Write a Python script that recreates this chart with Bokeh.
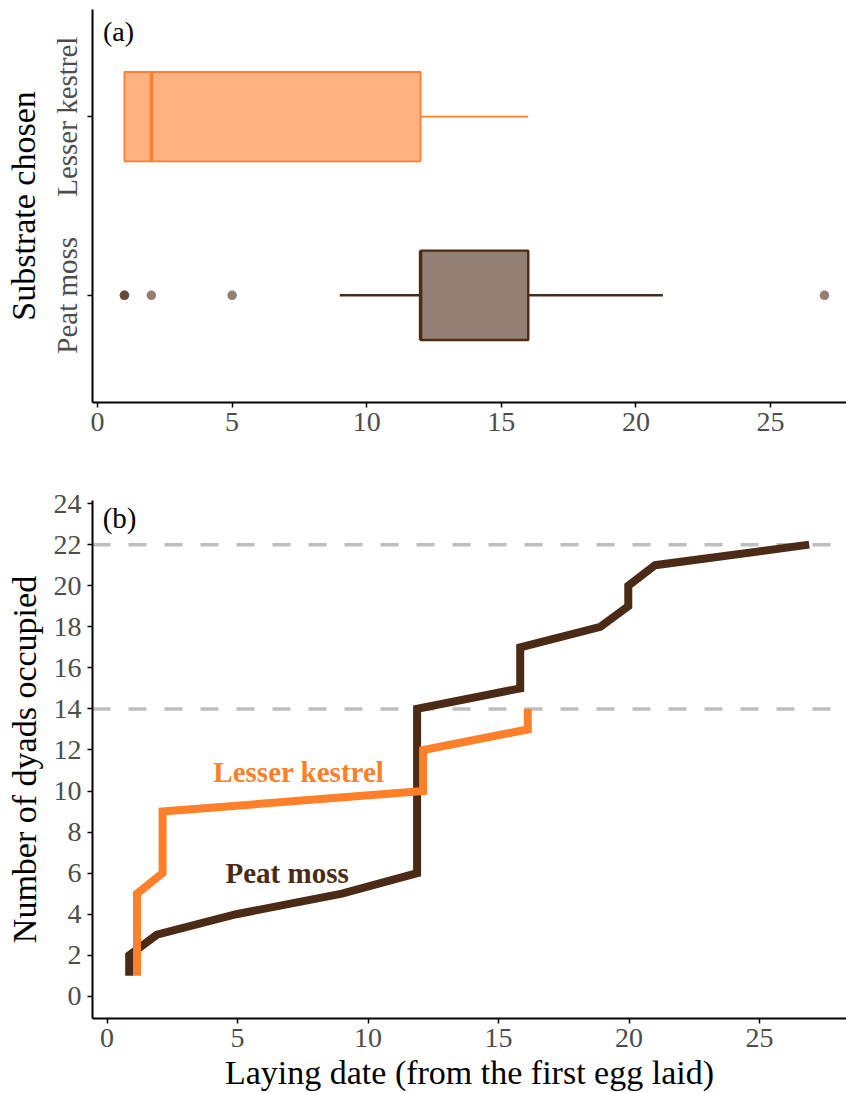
import numpy as np
from bokeh.plotting import figure
from bokeh.layouts import column
from bokeh.models import Range1d, FixedTicker, Span
from bokeh.embed import file_html
from bokeh.resources import INLINE
from bokeh.core.properties import value

# ---------------- data ----------------
categories = ["Peat moss", "Lesser kestrel"]
category_pos = [1, 2]

# laying dates per substrate (panel a, boxplots)
peat_dates = [1, 1, 2, 5, 9, 12, 12, 12, 12, 12, 12, 12, 12, 12,
              16, 16, 16, 19, 20, 20, 21, 27]
kestrel_dates = [1, 1, 1, 1, 1, 2, 2, 2, 2, 12, 12, 12, 16, 16]

# cumulative occupation curves (panel b), x as drawn (slightly jittered)
peat_line_x = [0.85, 0.85, 1.91, 4.95, 9.0, 11.88, 11.88, 11.88, 11.88, 11.88,
               11.88, 11.88, 11.88, 11.88, 15.83, 15.83, 15.83, 18.9, 19.97,
               19.97, 21.0, 26.9]
peat_line_y = [1, 2, 3, 4, 5, 6, 7, 8, 9, 10, 11, 12, 13, 14, 15, 16, 17, 18,
               19, 20, 21, 22]
kestrel_line_x = [1.15, 1.15, 1.15, 1.15, 1.15, 2.13, 2.13, 2.13, 2.13,
                  12.11, 12.11, 12.11, 16.12, 16.12]
kestrel_line_y = [1, 2, 3, 4, 5, 6, 7, 8, 9, 10, 11, 12, 13, 14]

ref_levels = [14, 22]
x_ticks = [0, 5, 10, 15, 20, 25]
y_ticks_b = [0, 2, 4, 6, 8, 10, 12, 14, 16, 18, 20, 22, 24]

# ---------------- style ----------------
FONT = "Liberation Serif"
ORANGE = "#FF7F2A"
BROWN = "#4B2A16"
TICK_GREY = "#4D4D4D"


def box_stats(vals):
    v = np.array(vals, dtype=float)
    q1, med, q3 = np.percentile(v, [25, 50, 75])
    iqr = q3 - q1
    lo_f, hi_f = q1 - 1.5 * iqr, q3 + 1.5 * iqr
    inside = v[(v >= lo_f) & (v <= hi_f)]
    lw, uw = inside.min(), inside.max()
    out = v[(v < lo_f) | (v > hi_f)]
    return q1, med, q3, lw, uw, out


def style_axes(p):
    p.outline_line_color = None
    p.xgrid.visible = False
    p.ygrid.visible = False
    p.background_fill_color = "white"
    p.border_fill_color = "white"
    for ax in (p.xaxis[0], p.yaxis[0]):
        ax.axis_line_width = 2
        ax.axis_line_color = "black"
        ax.major_tick_line_color = "black"
        ax.major_tick_line_width = 1.5
        ax.major_tick_out = 5
        ax.major_tick_in = 0
        ax.minor_tick_line_color = None
        ax.major_label_text_font = FONT
        ax.major_label_text_color = TICK_GREY
        ax.axis_label_text_font = FONT
        ax.axis_label_text_font_style = "normal"
        ax.axis_label_text_color = "black"
        ax.axis_label_text_font_size = "34px"


# ---------------- panel a ----------------
p1 = figure(width=846, height=487, x_range=Range1d(-0.186, 27.82),
            y_range=Range1d(0.4, 2.6), output_backend="svg",
            toolbar_location=None, min_border_left=92, min_border_right=0,
            min_border_top=9, min_border_bottom=85)
style_axes(p1)

groups = [(kestrel_dates, 2, ORANGE, 1.8), (peat_dates, 1, BROWN, 2.4)]
for vals, ypos, col, lw_box in groups:
    q1, med, q3, lw, uw, out = box_stats(vals)
    # whiskers
    p1.segment(x0=[q3], y0=[ypos], x1=[uw], y1=[ypos], line_color=col, line_width=lw_box)
    p1.segment(x0=[lw], y0=[ypos], x1=[q1], y1=[ypos], line_color=col, line_width=lw_box)
    # box
    p1.hbar(y=[ypos], left=[q1], right=[q3], height=0.5, fill_color=col,
            fill_alpha=0.6, line_color=col, line_width=lw_box)
    # median
    p1.segment(x0=[med], y0=[ypos - 0.25], x1=[med], y1=[ypos + 0.25],
               line_color=col, line_width=3.5)
    if len(out):
        p1.scatter(x=list(out), y=[ypos] * len(out), size=9.5, fill_color=col,
                   fill_alpha=0.6, line_color=None)

p1.xaxis.ticker = FixedTicker(ticks=x_ticks)
p1.xaxis.major_label_text_font_size = "28px"
p1.xaxis.major_label_standoff = 5
p1.yaxis.ticker = FixedTicker(ticks=category_pos)
p1.yaxis.major_label_overrides = {category_pos[i]: categories[i] for i in range(2)}
p1.yaxis.major_label_orientation = "vertical"
p1.yaxis.major_label_text_font_size = "29px"
p1.yaxis.major_label_standoff = 4
p1.yaxis.axis_label = "Substrate chosen"
p1.yaxis.axis_label_standoff = 7

p1.text(x=[0.78], y=[2.477], text=["(a)"], text_font=value(FONT),
        text_font_size="28px", text_color="black", text_align="center",
        text_baseline="middle")

# ---------------- panel b ----------------
p2 = figure(width=846, height=606, x_range=Range1d(-0.556, 28.33),
            y_range=Range1d(-1.08, 24.15), output_backend="svg",
            toolbar_location=None, min_border_left=92, min_border_right=0,
            min_border_top=13, min_border_bottom=74)
style_axes(p2)

for lvl in ref_levels:
    p2.add_layout(Span(location=lvl, dimension="width", line_color="#BEBEBE",
                       line_width=3.5, line_dash="18 18", level="underlay"))

p2.line(peat_line_x, peat_line_y, line_color=BROWN, line_width=8,
        line_join="miter")
p2.line(kestrel_line_x, kestrel_line_y, line_color=ORANGE, line_width=8,
        line_join="miter")

p2.text(x=[7.35], y=[10.95], text=["Lesser kestrel"], text_font=value(FONT),
        text_font_style="bold", text_font_size="29px", text_color=ORANGE,
        text_align="center", text_baseline="middle")
p2.text(x=[6.9], y=[5.99], text=["Peat moss"], text_font=value(FONT),
        text_font_style="bold", text_font_size="29px", text_color=BROWN,
        text_align="center", text_baseline="middle")
p2.text(x=[0.48], y=[23.3], text=["(b)"], text_font=value(FONT),
        text_font_size="29px", text_color="black", text_align="center",
        text_baseline="middle")

p2.xaxis.ticker = FixedTicker(ticks=x_ticks)
p2.xaxis.major_label_text_font_size = "28px"
p2.xaxis.major_label_standoff = 5
p2.xaxis.axis_label = "Laying date (from the first egg laid)"
p2.xaxis.axis_label_standoff = 4
p2.yaxis.ticker = FixedTicker(ticks=y_ticks_b)
p2.yaxis.major_label_text_font_size = "28px"
p2.yaxis.major_label_standoff = 6
p2.yaxis.axis_label = "Number of dyads occupied"
p2.yaxis.axis_label_standoff = 8

layout = column(p1, p2, spacing=0)
open("out.html", "w").write(file_html(layout, INLINE))
